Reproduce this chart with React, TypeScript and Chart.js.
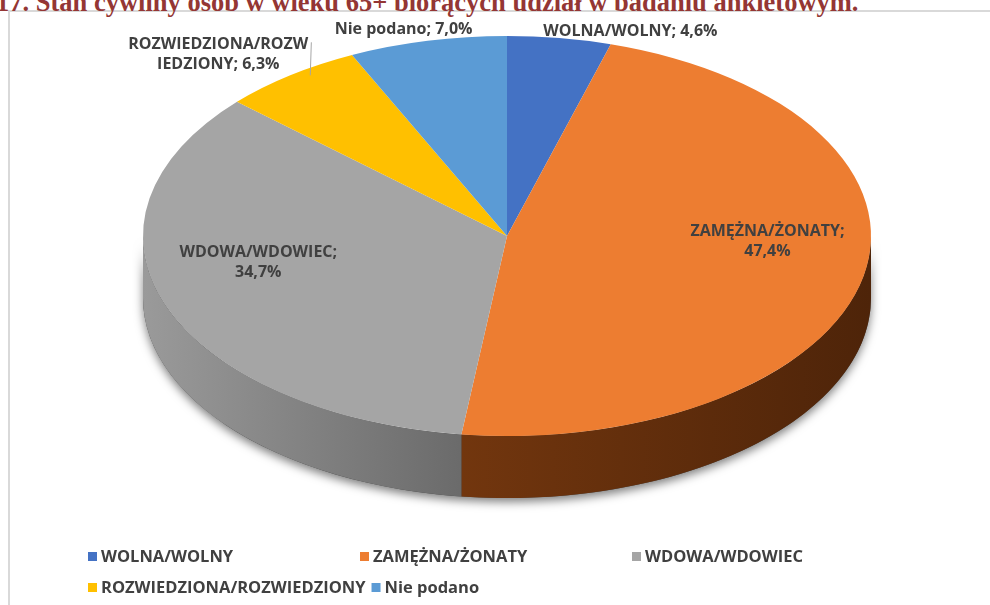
import React, { useEffect, useRef } from "react";
import { Chart, registerables } from "chart.js";
Chart.register(...registerables);

// ---- data ----
const CATEGORIES = [
  "WOLNA/WOLNY",
  "ZAMĘŻNA/ŻONATY",
  "WDOWA/WDOWIEC",
  "ROZWIEDZIONA/ROZWIEDZIONY",
  "Nie podano",
];
const VALUES = [4.6, 47.4, 34.7, 6.3, 7.0];

// ---- styles ----
const TOP_COLORS = ["#4472C4", "#ED7D31", "#A5A5A5", "#FFC000", "#5B9BD5"];
const SIDE_COLORS = [
  ["#3a5f9e", "#1f3560"],
  ["#8e4412", "#4e2409"],
  ["#9a9a9a", "#2e2e2e"],
  ["#b08500", "#6e5300"],
  ["#3f6d96", "#2a4a66"],
];
const TITLE = "17. Stan cywilny osób w wieku 65+ biorących udział w badaniu ankietowym.";

// ---- layout ----
const RATIO = 1.82; // horizontal stretch of the pie (ellipse)
const DEPTH = 62; // thickness of the 3D side
const LABEL_R = [1.0, 0.72, 0.72, 1.0, 1.0];
const LABEL_DX = [71, 4, -3, -72, -24];
const LABEL_DY = [-7, -24, -24, -21, -11];
const LABEL_WRAP = [0, -1, -1, 17, 0]; // 0: one line, -1: break before value, n: break at char n
const LABEL_FONT = "bold 16px 'Open Sans'";
const LEGEND_FONT = "bold 16.5px 'Open Sans'";
const LEGEND_X = 88;
const LEGEND_ROWS_Y = [557, 588];
const LEGEND_COL_W = 272;
const LEGEND_PER_ROW = 3;

const fmt = (v: number) => v.toFixed(1).replace(".", ",") + "%";

function labelLines(i: number): string[] {
  const full = `${CATEGORIES[i]}; ${fmt(VALUES[i])}`;
  const w = LABEL_WRAP[i];
  if (w === 0) return [full];
  if (w === -1) return [`${CATEGORIES[i]};`, fmt(VALUES[i])];
  return [full.slice(0, w), full.slice(w)];
}

const pie3d = {
  id: "pie3d",
  beforeDatasetsDraw(chart: any) {
    const arcs = chart.getDatasetMeta(0).data as any[];
    if (!arcs.length) return;
    const { x: cx, y: cy, outerRadius: r } = arcs[0];
    const ctx: CanvasRenderingContext2D = chart.ctx;
    ctx.save();
    ctx.translate(cx, cy);
    ctx.scale(RATIO, 1);
    ctx.translate(-cx, -cy);

    // silhouette of the side with shadow
    ctx.save();
    ctx.shadowColor = "rgba(0,0,0,0.5)";
    ctx.shadowBlur = 10;
    ctx.shadowOffsetY = 4;
    ctx.beginPath();
    ctx.moveTo(cx + r, cy);
    ctx.arc(cx, cy, r, 0, Math.PI);
    ctx.lineTo(cx - r, cy + DEPTH);
    ctx.arc(cx, cy + DEPTH, r, Math.PI, 0, true);
    ctx.closePath();
    ctx.fillStyle = "#444";
    ctx.fill();
    ctx.restore();

    arcs.forEach((arc: any, i: number) => {
      const a0 = Math.max(arc.startAngle, 0);
      const a1 = Math.min(arc.endAngle, Math.PI);
      if (a1 <= a0) return;
      const g = ctx.createLinearGradient(cx - r, 0, cx + r, 0);
      g.addColorStop(0, SIDE_COLORS[i][0]);
      g.addColorStop(1, SIDE_COLORS[i][1]);
      ctx.beginPath();
      ctx.moveTo(cx + r * Math.cos(a0), cy + r * Math.sin(a0));
      ctx.arc(cx, cy, r, a0, a1);
      ctx.lineTo(cx + r * Math.cos(a1), cy + DEPTH + r * Math.sin(a1));
      ctx.arc(cx, cy + DEPTH, r, a1, a0, true);
      ctx.closePath();
      ctx.fillStyle = g;
      ctx.fill();
    });
  },
  afterDatasetsDraw(chart: any) {
    const ctx: CanvasRenderingContext2D = chart.ctx;
    ctx.restore();
    const arcs = chart.getDatasetMeta(0).data as any[];
    if (!arcs.length) return;
    const { x: cx, y: cy, outerRadius: r } = arcs[0];
    ctx.save();
    ctx.font = LABEL_FONT;
    ctx.fillStyle = "#404040";
    ctx.textAlign = "center";
    ctx.textBaseline = "middle";
    arcs.forEach((arc: any, i: number) => {
      const mid = (arc.startAngle + arc.endAngle) / 2;
      const px = cx + LABEL_R[i] * r * RATIO * Math.cos(mid) + LABEL_DX[i];
      const py = cy + LABEL_R[i] * r * Math.sin(mid) + LABEL_DY[i];
      const lines = labelLines(i);
      const lh = 20;
      const top = py - ((lines.length - 1) * lh) / 2;
      lines.forEach((t, k) => ctx.fillText(t, px, top + k * lh));
      if (lines.length === 2 && LABEL_R[i] >= 1) {
        const w = Math.max(...lines.map((t) => ctx.measureText(t).width));
        const rx = cx + r * RATIO * Math.cos(mid);
        const ry = cy + r * Math.sin(mid);
        ctx.save();
        ctx.strokeStyle = "#a6a6a6";
        ctx.lineWidth = 1;
        ctx.beginPath();
        ctx.moveTo(px + w / 2 + 3, top - 2);
        ctx.lineTo(rx + 20, ry);
        ctx.stroke();
        ctx.restore();
      }
    });
    ctx.restore();
  },
  afterDraw(chart: any) {
    const ctx: CanvasRenderingContext2D = chart.ctx;
    ctx.save();
    ctx.font = LEGEND_FONT;
    ctx.textBaseline = "middle";
    ctx.textAlign = "left";
    let x = LEGEND_X;
    CATEGORIES.forEach((c, i) => {
      const row = Math.floor(i / LEGEND_PER_ROW);
      if (i % LEGEND_PER_ROW === 0) x = LEGEND_X;
      const y = LEGEND_ROWS_Y[row];
      ctx.fillStyle = TOP_COLORS[i];
      ctx.fillRect(x, y - 5, 9, 9);
      ctx.fillStyle = "#404040";
      ctx.fillText(c, x + 13, y);
      const w = ctx.measureText(c).width;
      x += Math.max(LEGEND_COL_W, 13 + w + 6);
    });
    ctx.restore();
  },
};

export default function App() {
  const ref = useRef<HTMLCanvasElement>(null);
  useEffect(() => {
    const chart = new Chart(ref.current as HTMLCanvasElement, {
      type: "pie",
      data: {
        labels: CATEGORIES,
        datasets: [
          {
            data: VALUES,
            backgroundColor: TOP_COLORS,
            borderWidth: 0,
            hoverBorderWidth: 0,
            hoverOffset: 0,
            clip: false as any,
          } as any,
        ],
      },
      options: {
        responsive: false,
        animation: false,
        events: [],
        layout: { padding: { top: 36, bottom: 169, left: 307, right: 283 } },
        plugins: { legend: { display: false }, tooltip: { enabled: false } },
      },
      plugins: [pie3d as any],
    });
    return () => chart.destroy();
  }, []);
  return (
    <div
      style={{
        position: "fixed",
        left: 0,
        top: 0,
        width: 990,
        height: 605,
        overflow: "hidden",
        background: "#fff",
      }}
    >
      <div
        style={{
          position: "absolute",
          left: 8,
          top: 10,
          width: 1000,
          height: 700,
          border: "2px solid #d9d9d9",
          boxSizing: "border-box",
        }}
      />
      <div
        style={{
          position: "absolute",
          left: -4,
          top: -13,
          whiteSpace: "nowrap",
          font: "bold 26.5px 'Liberation Serif', 'Times New Roman', serif",
          color: "#943634",
        }}
      >
        {TITLE}
      </div>
      <canvas
        ref={ref}
        width={990}
        height={605}
        style={{ position: "absolute", left: 0, top: 0 }}
      />
    </div>
  );
}
